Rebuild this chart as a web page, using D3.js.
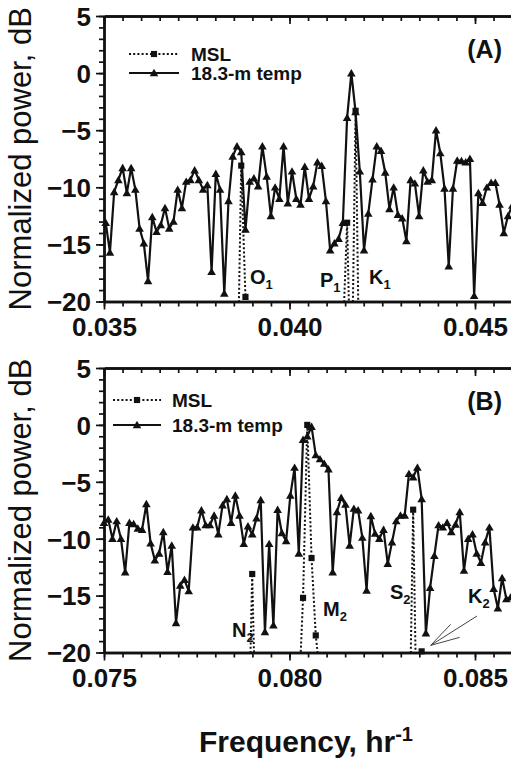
<!DOCTYPE html>
<html>
<head>
<meta charset="utf-8">
<script src="https://cdn.jsdelivr.net/npm/d3@7"></script>
<style>
  body { margin: 0; background: #fff; }
  svg { display: block; font-family: "Liberation Sans", Arial, sans-serif; }
</style>
</head>
<body>
<div id="chart"></div>
<script>
// Spectrum bins (hr^-1) and normalized power (dB), panel A: diurnal band
const freqA = [0.035046, 0.035160, 0.035274, 0.035388, 0.035502, 0.035616, 0.035731, 0.035845, 0.035959, 0.036073,
  0.036187, 0.036301, 0.036416, 0.036530, 0.036644, 0.036758, 0.036872, 0.036986, 0.037100, 0.037215,
  0.037329, 0.037443, 0.037557, 0.037671, 0.037785, 0.037900, 0.038014, 0.038128, 0.038242, 0.038356,
  0.038470, 0.038585, 0.038699, 0.038813, 0.038927, 0.039041, 0.039155, 0.039269, 0.039384, 0.039498,
  0.039612, 0.039726, 0.039840, 0.039954, 0.040068, 0.040183, 0.040297, 0.040411, 0.040525, 0.040639,
  0.040753, 0.040868, 0.040982, 0.041096, 0.041210, 0.041324, 0.041438, 0.041553, 0.041667, 0.041781,
  0.041895, 0.042009, 0.042123, 0.042237, 0.042352, 0.042466, 0.042580, 0.042694, 0.042808, 0.042922,
  0.043037, 0.043151, 0.043265, 0.043379, 0.043493, 0.043607, 0.043721, 0.043836, 0.043950, 0.044064,
  0.044178, 0.044292, 0.044406, 0.044521, 0.044635, 0.044749, 0.044863, 0.044977, 0.045091, 0.045205,
  0.045320, 0.045434, 0.045548, 0.045662, 0.045776, 0.045890, 0.046005];
const tempA = [-13.1, -15.7, -10.4, -9.35, -8.3, -10.5, -8.3, -10.2, -13.6, -14.9,
  -18.2, -12.6, -13.9, -13.3, -11.8, -13.6, -13.0, -10.2, -11.8, -9.5,
  -9.35, -8.5, -9.35, -10.2, -9.8, -17.4, -8.8, -10.2, -19.3, -11.2,
  -7.3, -6.4, -6.9, -13.7, -9.5, -9.2, -9.9, -6.4, -9.05, -12.5,
  -10.0, -11.0, -6.4, -11.4, -8.6, -11.0, -11.5, -8.2, -11.0, -9.9,
  -7.8, -8.1, -11.2, -15.5, -14.9, -14.5, -13.1, -3.9, 0.0, -3.4,
  -8.6, -15.5, -12.3, -9.3, -6.4, -6.8, -8.7, -11.9, -10.0, -12.4,
  -12.7, -14.7, -9.35, -9.65, -12.5, -8.5, -9.5, -9.35, -5.0, -7.0,
  -10.1, -16.9, -10.1, -7.65, -7.7, -7.8, -7.5, -19.5, -10.5, -11.35,
  -10.0, -9.6, -9.6, -11.5, -14.0, -12.5, -11.6];
// MSL: only the tidal lines rise above -20 dB; null separates the visible pieces
const mslFreqA = [0.038585, 0.038699, 0.038813, 0.038927, null, 0.041438, 0.041553, 0.041667, 0.041781, 0.041895];
const mslA = [-30, -8.1, -19.6, -30, null, -23, -13.1, -30, -3.3, -30];

// Panel B: semidiurnal band
const freqB = [0.075000, 0.075114, 0.075228, 0.075342, 0.075457, 0.075571, 0.075685, 0.075799, 0.075913, 0.076027,
  0.076142, 0.076256, 0.076370, 0.076484, 0.076598, 0.076712, 0.076826, 0.076941, 0.077055, 0.077169,
  0.077283, 0.077397, 0.077511, 0.077626, 0.077740, 0.077854, 0.077968, 0.078082, 0.078196, 0.078311,
  0.078425, 0.078539, 0.078653, 0.078767, 0.078881, 0.078995, 0.079110, 0.079224, 0.079338, 0.079452,
  0.079566, 0.079680, 0.079795, 0.079909, 0.080023, 0.080137, 0.080251, 0.080365, 0.080479, 0.080594,
  0.080708, 0.080822, 0.080936, 0.081050, 0.081164, 0.081279, 0.081393, 0.081507, 0.081621, 0.081735,
  0.081849, 0.081963, 0.082078, 0.082192, 0.082306, 0.082420, 0.082534, 0.082648, 0.082763, 0.082877,
  0.082991, 0.083105, 0.083219, 0.083333, 0.083447, 0.083562, 0.083676, 0.083790, 0.083904, 0.084018,
  0.084132, 0.084247, 0.084361, 0.084475, 0.084589, 0.084703, 0.084817, 0.084932, 0.085046, 0.085160,
  0.085274, 0.085388, 0.085502, 0.085616, 0.085731, 0.085845, 0.085959];
const tempB = [-8.6, -8.3, -10.0, -8.45, -10.0, -12.95, -8.6, -8.7, -9.1, -9.2,
  -6.95, -10.4, -11.9, -11.3, -9.4, -12.9, -10.6, -17.4, -14.1, -13.6,
  -14.6, -9.0, -9.0, -7.5, -8.8, -8.8, -7.95, -9.6, -7.05, -6.5,
  -8.6, -6.2, -7.95, -10.45, -8.9, -9.6, -8.2, -6.6, -18.2, -10.45,
  -17.6, -7.45, -9.5, -10.2, -6.2, -3.75, -11.3, -1.3, -1.0, -0.15,
  -2.65, -3.0, -3.4, -3.9, -12.95, -7.65, -6.4, -7.0, -10.6, -7.35,
  -7.5, -9.9, -14.55, -8.0, -9.55, -10.0, -9.2, -12.2, -10.3, -8.45,
  -7.95, -7.95, -4.3, -4.6, -3.75, -6.5, -18.3, -14.3, -11.5, -8.8,
  -9.0, -8.6, -9.4, -8.75, -7.65, -12.8, -10.0, -9.6, -11.3, -12.1,
  -10.3, -9.0, -14.4, -16.1, -13.45, -15.3, -15.15];
const mslFreqB = [0.078881, 0.078995, 0.079110, null,
  0.080251, 0.080365, 0.080479, 0.080594, 0.080708, 0.080822, null,
  0.083219, 0.083333, 0.083447, 0.083562, 0.083676];
const mslB = [-30, -13.1, -30, null,
  -24, -15.2, 0.0, -11.7, -18.5, -22, null,
  -30, -7.45, -30, -19.9, -30];

const yTicks = [5, 0, -5, -10, -15, -20];
const xTicksA = [0.035, 0.040, 0.045];
const xTicksB = [0.075, 0.080, 0.085];
const seriesNames = ["MSL", "18.3-m temp"];

const W = 511, H = 760;
const svg = d3.select("#chart").append("svg")
    .attr("width", W)
    .attr("height", H);

const FONT = "'Liberation Sans', Arial, sans-serif";
const ink = "#111";

function drawPanel(p) {
    const x = d3.scaleLinear()
        .domain([p.x0, p.x0 + 0.0115])
        .range([104, 104 + 11.5 * 37.1]);
    const y = d3.scaleLinear()
        .domain([-20, 5])
        .range([p.bottom, p.top]);

    const g = svg.append("g");
    const clipId = "clip" + p.name;
    svg.append("clipPath").attr("id", clipId)
        .append("rect")
        .attr("x", 104).attr("y", p.top)
        .attr("width", W).attr("height", p.bottom - p.top);

    // minor ticks every 0.0005 and 1 dB
    const xMinor = d3.range(0, 24).map(i => p.x0 + i * 0.0005);
    const yMinor = d3.range(-20, 6, 1);
    const xMajor = p.xTicks;

    // bottom axis
    const bottom = g.append("g").attr("transform", `translate(0,${p.bottom})`);
    bottom.append("g").call(d3.axisBottom(x).tickValues(xMinor).tickSize(5).tickSizeOuter(0).tickFormat(""));
    bottom.append("g").call(d3.axisBottom(x).tickValues(xMajor).tickSize(8).tickSizeOuter(0)
        .tickPadding(8).tickFormat(d3.format(".3f")));

    // top axis, ticks pointing into the plot
    const top = g.append("g").attr("transform", `translate(0,${p.top})`);
    top.append("g").call(d3.axisBottom(x).tickValues(xMinor).tickSize(5).tickSizeOuter(0).tickFormat(""));
    top.append("g").call(d3.axisBottom(x).tickValues(xMajor).tickSize(8).tickSizeOuter(0).tickFormat(""));

    // left axis
    const left = g.append("g").attr("transform", "translate(104,0)");
    left.append("g").call(d3.axisLeft(y).tickValues(yMinor).tickSize(5).tickSizeOuter(0).tickFormat(""));
    left.append("g").call(d3.axisLeft(y).tickValues(yTicks).tickSize(8).tickSizeOuter(0)
        .tickPadding(5).tickFormat(d3.format("d")));

    g.selectAll(".domain").attr("stroke", ink).attr("stroke-width", 2.4);
    g.selectAll(".tick line").attr("stroke", ink).attr("stroke-width", 1.7);
    g.selectAll(".tick text")
        .attr("font-family", FONT)
        .attr("font-weight", "bold")
        .attr("font-size", 26)
        .attr("fill", ink);
    left.selectAll(".tick text").attr("dy", "0.36em");

    // MSL (dotted, squares)
    const mslPts = p.mslFreq.map((f, i) => ({ f: f, v: p.msl[i] }));
    const line = d3.line()
        .defined(d => d.f !== null && d.v !== null)
        .x(d => x(d.f))
        .y(d => y(d.v));
    g.append("path")
        .datum(mslPts)
        .attr("clip-path", `url(#${clipId})`)
        .attr("d", line)
        .attr("fill", "none")
        .attr("stroke", ink)
        .attr("stroke-width", 2)
        .attr("stroke-dasharray", "2,2.2");

    // temperature (solid, triangles)
    const tempPts = p.freq.map((f, i) => ({ f: f, v: p.temp[i] }));
    g.append("path")
        .datum(tempPts)
        .attr("clip-path", `url(#${clipId})`)
        .attr("d", line)
        .attr("fill", "none")
        .attr("stroke", ink)
        .attr("stroke-width", 2.2)
        .attr("stroke-linejoin", "miter");

    const tri = d3.symbol().type(d3.symbolTriangle).size(32);
    g.selectAll(".tri")
        .data(tempPts)
        .enter().append("path")
        .attr("class", "tri")
        .attr("transform", d => `translate(${x(d.f)},${y(d.v) + 0.8})`)
        .attr("d", tri)
        .attr("fill", ink);

    const sq = d3.symbol().type(d3.symbolSquare).size(38);
    g.selectAll(".sq")
        .data(mslPts.filter(d => d.v !== null && d.v >= -20))
        .enter().append("path")
        .attr("class", "sq")
        .attr("transform", d => `translate(${x(d.f)},${y(d.v)})`)
        .attr("d", sq)
        .attr("fill", ink);

    // legend
    const lg = g.append("g");
    const L = p.legend;
    lg.append("line")
        .attr("x1", L.x1).attr("x2", L.x2).attr("y1", L.y1).attr("y2", L.y1)
        .attr("stroke", ink).attr("stroke-width", 2).attr("stroke-dasharray", "2,2.2");
    lg.append("path")
        .attr("transform", `translate(${(L.x1 + L.x2) / 2},${L.y1})`)
        .attr("d", sq).attr("fill", ink);
    lg.append("line")
        .attr("x1", L.x1).attr("x2", L.x2).attr("y1", L.y2).attr("y2", L.y2)
        .attr("stroke", ink).attr("stroke-width", 2.2);
    lg.append("path")
        .attr("transform", `translate(${(L.x1 + L.x2) / 2},${L.y2 + 0.8})`)
        .attr("d", tri).attr("fill", ink);
    lg.selectAll("text")
        .data(seriesNames)
        .enter().append("text")
        .attr("x", L.tx)
        .attr("y", (d, i) => (i === 0 ? L.y1 : L.y2) + 6.5)
        .attr("font-family", FONT)
        .attr("font-weight", "bold")
        .attr("font-size", 19)
        .attr("fill", ink)
        .text(d => d);

    // panel letter
    g.append("text")
        .attr("x", 502).attr("y", p.top + 42)
        .attr("text-anchor", "end")
        .attr("font-family", FONT)
        .attr("font-weight", "bold")
        .attr("font-size", 25)
        .attr("fill", ink)
        .text(p.letter);

    // tidal constituent labels
    p.labels.forEach(l => {
        const t = g.append("text")
            .attr("x", l.x).attr("y", l.y)
            .attr("font-family", FONT)
            .attr("font-weight", "bold")
            .attr("font-size", 20)
            .attr("fill", ink);
        t.append("tspan").text(l.name);
        t.append("tspan").attr("font-size", 13).attr("dy", 5).text(l.sub);
    });

    // y axis title
    g.append("text")
        .attr("transform", `translate(31,${(p.top + p.bottom) / 2}) rotate(-90)`)
        .attr("text-anchor", "middle")
        .attr("font-family", FONT)
        .attr("font-size", 31)
        .attr("fill", ink)
        .text("Normalized power, dB");

    return { x, y, g };
}

drawPanel({
    name: "A", letter: "(A)", x0: 0.035, xTicks: xTicksA,
    top: 16, bottom: 301.5,
    freq: freqA, temp: tempA, mslFreq: mslFreqA, msl: mslA,
    legend: { x1: 129, x2: 179, y1: 54, y2: 73, tx: 191 },
    labels: [
        { name: "O", sub: "1", x: 250, y: 284 },
        { name: "P", sub: "1", x: 320, y: 287 },
        { name: "K", sub: "1", x: 369, y: 284 }
    ]
});

const panelB = drawPanel({
    name: "B", letter: "(B)", x0: 0.075, xTicks: xTicksB,
    top: 368, bottom: 652.5,
    freq: freqB, temp: tempB, mslFreq: mslFreqB, msl: mslB,
    legend: { x1: 113, x2: 161, y1: 400, y2: 425, tx: 172 },
    labels: [
        { name: "N", sub: "2", x: 232, y: 637 },
        { name: "M", sub: "2", x: 323, y: 616 },
        { name: "S", sub: "2", x: 390, y: 599 },
        { name: "K", sub: "2", x: 468, y: 603 }
    ]
});

// arrow from the K2 label to its MSL point
const tip = [panelB.x(0.083562) + 9, panelB.y(-19.9) - 6];
const arrow = panelB.g.append("g")
    .attr("stroke", "#444").attr("stroke-width", 1).attr("fill", "none");
arrow.append("line").attr("x1", 477).attr("y1", 616).attr("x2", tip[0]).attr("y2", tip[1]);
arrow.append("line").attr("x1", tip[0]).attr("y1", tip[1]).attr("x2", tip[0] + 20).attr("y2", tip[1] - 21);
arrow.append("line").attr("x1", tip[0]).attr("y1", tip[1]).attr("x2", tip[0] + 29).attr("y2", tip[1] - 8);

// x axis title
const title = svg.append("text")
    .attr("x", 199).attr("y", 752)
    .attr("font-family", FONT)
    .attr("font-weight", "bold")
    .attr("font-size", 30)
    .attr("fill", ink);
title.append("tspan").text("Frequency, hr");
title.append("tspan").attr("font-size", 20).attr("dy", -11).text("-1");
</script>
</body>
</html>
